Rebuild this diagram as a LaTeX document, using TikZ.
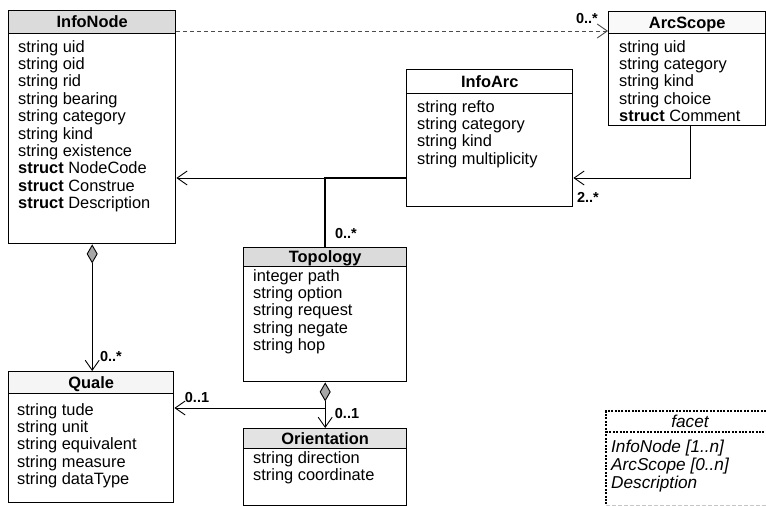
\documentclass[tikz,border=0pt]{standalone}
\usepackage{fontspec}
\setmainfont{Liberation Sans}
\usetikzlibrary{arrows.meta}

\tikzset{
  classbox/.style={draw, line width=1.4pt, inner sep=0pt, anchor=north west},
  classhead/.style={draw, line width=1.4pt, inner sep=0pt, anchor=north west,
    font=\fontsize{16.4}{18}\selectfont\bfseries, text height=11.5pt, text depth=0pt},
  attrs/.style={anchor=north west, inner sep=0pt, align=left,
    font=\fontsize{16.4}{17.4}\selectfont, execute at begin node=\rule{0pt}{12pt}},
  facettext/.style={anchor=north west, inner sep=0pt, align=left,
    font=\fontsize{17.2}{18}\selectfont\itshape, execute at begin node=\rule{0pt}{12.5pt}},
  mult/.style={inner sep=0pt, font=\fontsize{14.5}{16}\selectfont\bfseries},
  assoc/.style={line width=0.9pt, -{Straight Barb[length=10pt,width=14pt]}},
  compo/.style={line width=0.9pt,
    {Diamond[length=19pt,width=11pt,fill=gray!70]}-{Straight Barb[length=10pt,width=14pt]}},
  dep/.style={line width=0.9pt, draw=gray!60!black, dash pattern=on 4pt off 3pt,
    -{Straight Barb[length=10pt,width=14pt]}},
  link/.style={line width=1.5pt},
  dotborder/.style={line width=1.6pt, dash pattern=on 2pt off 1.4pt},
}

\begin{document}
\begin{tikzpicture}[x=1pt,y=-1pt]
\useasboundingbox (0,0) rectangle (766,506);

% InfoNode
\node[classbox, minimum width=167pt, minimum height=233pt] (infonode) at (8,10) {};
\node[classhead, fill=gray!28, minimum width=167pt, minimum height=23pt] (infonode-h) at (8,10) {InfoNode};
\node[attrs] (infonode-a) at (18,40) {string uid\\string oid\\string rid\\string bearing\\string category\\string kind\\string existence\\\textbf{struct} NodeCode\\\textbf{struct} Construe\\\textbf{struct} Description};

% ArcScope
\node[classbox, minimum width=157pt, minimum height=114pt] (arcscope) at (608,11) {};
\node[classhead, fill=gray!5, minimum width=157pt, minimum height=22pt] (arcscope-h) at (608,11) {ArcScope};
\node[attrs] (arcscope-a) at (619,40) {string uid\\string category\\string kind\\string choice\\\textbf{struct} Comment};

% InfoArc
\node[classbox, minimum width=166pt, minimum height=137pt] (infoarc) at (406,69) {};
\node[classhead, fill=white, minimum width=166pt, minimum height=24pt] (infoarc-h) at (406,69) {InfoArc};
\node[attrs] (infoarc-a) at (417,100) {string refto\\string category\\string kind\\string multiplicity};

% Topology
\node[classbox, minimum width=163pt, minimum height=134pt] (topology) at (243,247) {};
\node[classhead, fill=gray!28, minimum width=163pt, minimum height=19pt] (topology-h) at (243,247) {Topology};
\node[attrs] (topology-a) at (253,269) {integer path\\string option\\string request\\string negate\\string hop};

% Quale
\node[classbox, minimum width=165pt, minimum height=131pt] (quale) at (8,371) {};
\node[classhead, fill=gray!8, minimum width=165pt, minimum height=22pt] (quale-h) at (8,371) {Quale};
\node[attrs] (quale-a) at (17,403) {string tude\\string unit\\string equivalent\\string measure\\string dataType};

% Orientation
\node[classbox, minimum width=163pt, minimum height=77pt] (orientation) at (243,428) {};
\node[classhead, fill=gray!22, minimum width=163pt, minimum height=20pt] (orientation-h) at (243,428) {Orientation};
\node[attrs] (orientation-a) at (253,451) {string direction\\string coordinate};

% facet legend box, open to the right
\node[anchor=north west, inner sep=0pt, minimum width=170pt, minimum height=94pt] (facet) at (606,411) {};
\draw[dotborder] (facet.north east) -- (facet.north west) -- (facet.south west);
\draw[dotborder] ([yshift=-21pt]facet.north west) -- ([yshift=-21pt]facet.north east);
\draw[line width=1pt, draw=gray!45, dash pattern=on 4pt off 2pt] (facet.south west) -- (facet.south east);
\node[inner sep=0pt, font=\fontsize{17.2}{18}\selectfont\itshape] (facet-h) at (690,421) {facet};
\node[facettext] (facet-a) at (611,439.5) {InfoNode [1..n]\\ArcScope [0..n]\\Description};

% InfoNode to ArcScope (dependency)
\coordinate (dashy) at ([yshift=-21pt]infonode.north east);
\draw[dep] (dashy) -- (dashy -| arcscope.west);
\node[mult] (m-arcscope) at (587,19) {0..*};

% ArcScope to InfoArc
\coordinate (arcy) at ([yshift=-109pt]infoarc.north west);
\draw[assoc] ([xshift=3.5pt]arcscope.south) |- (arcy -| infoarc.east);
\node[mult] (m-infoarc) at (588,197) {2..*};

% InfoArc to InfoNode, with the Topology branch
\draw[assoc] (arcy) -- (arcy -| infonode.east);
\draw[link] (topology.north) -- (topology.north |- arcy) -- (arcy);
\node[mult] (m-topology) at (346,234) {0..*};

% InfoNode composes Quale
\draw[compo] (infonode.south) -- (infonode.south |- quale.north);
\node[mult] (m-quale) at (111,357) {0..*};

% Topology composes Orientation
\draw[compo] (topology.south) -- (orientation.north);
\node[mult] (m-orientation) at (347,414) {0..1};

% Topology to Quale
\coordinate (qy) at ([yshift=-37pt]quale.north east);
\draw[assoc] (qy -| topology.south) -- (qy);
\node[mult] (m-quale2) at (197,398) {0..1};
\end{tikzpicture}
\end{document}
